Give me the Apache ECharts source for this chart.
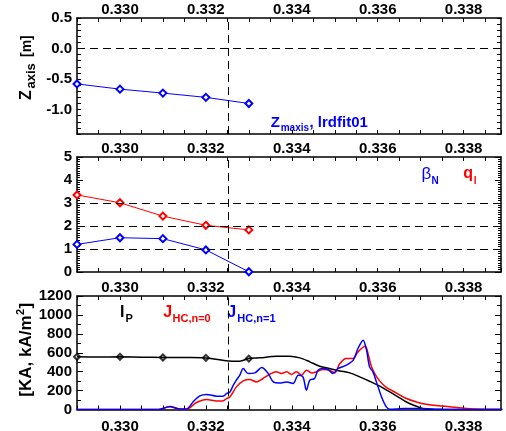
<!DOCTYPE html>
<html>
<head>
<meta charset="utf-8">
<script src="https://cdn.jsdelivr.net/npm/echarts@6/dist/echarts.min.js"></script>
<style>
  html, body { margin: 0; padding: 0; background: #fff; }
  #chart { width: 506px; height: 431px; }
</style>
</head>
<body>
<div id="chart"></div>
<script>
// time axis (s)
const tMin = 0.329;
const tMax = 0.33887;
const cursorT = 0.33251;

// panel 1: Zaxis, lrdfit01
const fitT = [0.329, 0.330, 0.331, 0.332, 0.333];
const zAxis = [-0.58, -0.665, -0.73, -0.80, -0.90];

// panel 2: beta_N and q_l
const betaN = [1.2, 1.49, 1.45, 0.96, 0.01];
const qL = [3.35, 3.01, 2.43, 2.03, 1.83];

// reference lines
const zRefs = [0];
const qRefs = [1, 2, 3];

// panel 3: Ip and halo currents
const ipDiamonds = [557, 557, 550, 546, 538];
const ipT = [0.3290, 0.3295, 0.3300, 0.3305, 0.3310, 0.3315, 0.3320, 0.33252, 0.33279, 0.3330, 0.33326, 0.33364, 0.33395, 0.33419, 0.33442, 0.33465, 0.33488, 0.33512, 0.33535, 0.33558, 0.33581, 0.33605, 0.33628, 0.33651, 0.33674, 0.33698, 0.33713, 0.3389];
const ipVal = [557, 555, 557, 553, 551, 549, 545, 514, 511, 538, 546, 564, 564, 546, 504, 458, 434, 408, 387, 345, 299, 247, 186, 123, 63, 21, 2, 0];

const jn1T = [0.3290, 0.3309, 0.33116, 0.33140, 0.33155, 0.33170, 0.33186, 0.33202, 0.33225, 0.33240, 0.33248, 0.33256, 0.33263, 0.33271, 0.33279, 0.33287, 0.33298, 0.33314, 0.33330, 0.33345, 0.33357, 0.33372, 0.33388, 0.33403, 0.33415, 0.33426, 0.33434, 0.33442, 0.33453, 0.33461, 0.33473, 0.33484, 0.33496, 0.33508, 0.33527, 0.33543, 0.33554, 0.33566, 0.33574, 0.33581, 0.33589, 0.33597, 0.33609, 0.33620, 0.33628, 0.3366, 0.3370, 0.3375, 0.3389];
const jn1Val = [0, 0, 32, 5, 5, 80, 144, 159, 141, 141, 169, 186, 250, 310, 363, 434, 381, 387, 444, 381, 292, 281, 292, 275, 363, 345, 204, 310, 328, 416, 434, 423, 381, 434, 469, 522, 645, 733, 627, 451, 398, 292, 133, 28, 3, 10, 10, 3, 0];

const jn0T = [0.3290, 0.3309, 0.33116, 0.33140, 0.33155, 0.33178, 0.33202, 0.33225, 0.33240, 0.33248, 0.33256, 0.33271, 0.33287, 0.33302, 0.33318, 0.33333, 0.33349, 0.33364, 0.33376, 0.33388, 0.33399, 0.33411, 0.33423, 0.33434, 0.33446, 0.33457, 0.33473, 0.33488, 0.33500, 0.33512, 0.33527, 0.33543, 0.33554, 0.33571, 0.33578, 0.33585, 0.33593, 0.33605, 0.33620, 0.33643, 0.33667, 0.33690, 0.33713, 0.33767, 0.33806, 0.33837, 0.3389];
const jn0Val = [0, 0, 28, 3, 3, 74, 106, 91, 91, 116, 133, 239, 303, 317, 292, 328, 373, 398, 381, 398, 370, 398, 363, 416, 387, 398, 423, 416, 387, 487, 540, 540, 609, 668, 580, 460, 380, 300, 235, 176, 116, 80, 56, 28, 11, 3, 0];

const pairs = (xs, ys) => xs.map((x, i) => [x, ys[i]]);

const font = 'Liberation Sans, Arial, sans-serif';
const BLUE = '#0000ff';
const RED = '#ff0000';

const grids = [
  { left: 77, width: 424, top: 18, height: 116, outerBoundsMode: 'none' },
  { left: 77, width: 424, top: 157, height: 115, outerBoundsMode: 'none' },
  { left: 77, width: 424, top: 296, height: 113.5, outerBoundsMode: 'none' }
];

function xAxisFor (g, pos, showLabel, margin) {
  return {
    type: 'value', gridIndex: g, position: pos,
    min: tMin, max: tMax, interval: 0.0005,
    axisLine: { show: true, onZero: false, lineStyle: { color: '#000', width: 1.5 } },
    axisTick: { show: true, inside: true, length: 4, lineStyle: { color: '#000' } },
    splitLine: { show: false },
    axisLabel: {
      show: showLabel, margin: margin, color: '#000',
      fontFamily: font, fontWeight: 'bold', fontSize: 15,
      showMaxLabel: false,
      formatter: v => (Math.round(v * 10000) % 20 === 0 ? v.toFixed(3) : '')
    }
  }
}

function yAxisFor (g, pos, opts) {
  const left = pos === 'left';
  return Object.assign({
    type: 'value', gridIndex: g, position: pos,
    axisLine: { show: true, onZero: false, lineStyle: { color: '#000', width: 1.5 } },
    axisTick: { show: true, inside: true, length: 6, lineStyle: { color: '#000' } },
    splitLine: { show: false },
    axisLabel: {
      show: left, margin: 5, color: '#000',
      fontFamily: font, fontWeight: 'bold', fontSize: 15,
      formatter: v => String(v)
    }
  }, opts)
}

const refLine = (data) => ({
  silent: true, symbol: 'none', animation: false, precision: 6,
  label: { show: false },
  lineStyle: { color: '#000', type: [8, 5], width: 1 },
  data: data
});

function txt (x, y, text, color, size, extra) {
  return Object.assign({
    type: 'text', x: x, y: y, silent: true,
    style: {
      text: text, fill: color, fontFamily: font, fontWeight: 'bold',
      fontSize: size, align: 'left', verticalAlign: 'middle'
    }
  }, extra || {})
}

const zFmt = v => (Math.abs(Math.round(v * 10)) % 5 === 0 ? (Math.round(v * 10) / 10).toFixed(1) : '');
const tickSmall = { show: true, inside: true, length: 4, lineStyle: { color: '#000' } };

const option = {
  animation: false,
  grid: grids,
  xAxis: [
    xAxisFor(0, 'top', true, 1), xAxisFor(0, 'bottom', false, 6),
    xAxisFor(1, 'top', true, 1), xAxisFor(1, 'bottom', false, 6),
    xAxisFor(2, 'top', true, 1), xAxisFor(2, 'bottom', true, 10)
  ],
  yAxis: [
    yAxisFor(0, 'left', { min: -1.4, max: 0.5, interval: 0.1, axisTick: tickSmall, axisLabel: { margin: 5, color: '#000', fontFamily: font, fontWeight: 'bold', fontSize: 15, formatter: zFmt } }),
    yAxisFor(0, 'right', { min: -1.4, max: 0.5, interval: 0.1, axisTick: tickSmall }),
    yAxisFor(1, 'left', { min: 0, max: 5, interval: 1, minorTick: { show: true, splitNumber: 10, length: 3, lineStyle: { color: '#000' } } }),
    yAxisFor(1, 'right', { min: 0, max: 5, interval: 1, minorTick: { show: true, splitNumber: 10, length: 3, lineStyle: { color: '#000' } } }),
    yAxisFor(2, 'left', { min: 0, max: 1200, interval: 200, minorTick: { show: true, splitNumber: 2, length: 4, lineStyle: { color: '#000' } } }),
    yAxisFor(2, 'right', { min: 0, max: 1200, interval: 200, minorTick: { show: true, splitNumber: 2, length: 4, lineStyle: { color: '#000' } } })
  ],
  series: [
    {
      name: 'Zmaxis', type: 'line', xAxisIndex: 0, yAxisIndex: 0,
      data: pairs(fitT, zAxis),
      symbol: 'emptyDiamond', symbolSize: 7,
      lineStyle: { color: BLUE, width: 1 }, itemStyle: { color: BLUE, borderWidth: 1.5 },
      markLine: refLine([{ xAxis: cursorT }].concat(zRefs.map(v => ({ yAxis: v }))))
    },
    {
      name: 'qL', type: 'line', xAxisIndex: 2, yAxisIndex: 2,
      data: pairs(fitT, qL),
      symbol: 'emptyDiamond', symbolSize: 7,
      lineStyle: { color: RED, width: 1 }, itemStyle: { color: RED, borderWidth: 1.5 },
      markLine: refLine([{ xAxis: cursorT }].concat(qRefs.map(v => ({ yAxis: v }))))
    },
    {
      name: 'betaN', type: 'line', xAxisIndex: 2, yAxisIndex: 2,
      data: pairs(fitT, betaN),
      symbol: 'emptyDiamond', symbolSize: 7,
      lineStyle: { color: BLUE, width: 1 }, itemStyle: { color: BLUE, borderWidth: 1.5 }
    },
    {
      name: 'Ip', type: 'line', xAxisIndex: 4, yAxisIndex: 4,
      data: pairs(ipT, ipVal), showSymbol: false, smooth: 0.3,
      lineStyle: { color: '#000', width: 1.5 },
      markLine: refLine([{ xAxis: cursorT }])
    },
    {
      name: 'Ip pts', type: 'scatter', xAxisIndex: 4, yAxisIndex: 4,
      data: pairs(fitT, ipDiamonds),
      symbol: 'emptyDiamond', symbolSize: 6,
      itemStyle: { color: '#000', borderWidth: 1.5 }
    },
    {
      name: 'J n=0', type: 'line', xAxisIndex: 4, yAxisIndex: 4,
      data: pairs(jn0T, jn0Val), showSymbol: false, smooth: 0.3,
      lineStyle: { color: RED, width: 1.5 }
    },
    {
      name: 'J n=1', type: 'line', xAxisIndex: 4, yAxisIndex: 4,
      data: pairs(jn1T, jn1Val), showSymbol: false, smooth: 0.3,
      lineStyle: { color: BLUE, width: 1.5 }
    }
  ],
  graphic: [
    // panel 1 label
    txt(270.7, 122.5, 'Z', BLUE, 15),
    txt(280.7, 128.5, 'maxis', BLUE, 10),
    txt(309.5, 122.5, ', lrdfit01', BLUE, 15),
    // panel 2 labels
    txt(421.5, 174, 'β', BLUE, 16, { style: { text: 'β', fill: BLUE, fontFamily: font, fontWeight: 'normal', fontSize: 17, align: 'left', verticalAlign: 'middle' } }),
    txt(431.5, 181, 'N', BLUE, 10),
    txt(463.3, 174, 'q', RED, 16),
    txt(473.7, 181, 'l', RED, 10),
    // panel 3 labels
    txt(120, 313, 'I', '#000', 16),
    txt(125.5, 318.5, 'P', '#000', 11),
    txt(163.3, 313, 'J', RED, 16),
    txt(172.5, 319, 'HC,n=0', RED, 11),
    txt(227.3, 313, 'J', BLUE, 16),
    txt(237.3, 319, 'HC,n=1', BLUE, 11),
    // y-axis names (rotated)
    txt(26.2, 100, 'Z', '#000', 16, { rotation: Math.PI / 2 }),
    txt(31.5, 88.5, 'axis', '#000', 13, { rotation: Math.PI / 2 }),
    txt(27, 57, '[m]', '#000', 14, { rotation: Math.PI / 2 }),
    txt(26.5, 396.7, '[KA, kA/m', '#000', 17, { rotation: Math.PI / 2 }),
    txt(21, 315, '2', '#000', 11, { rotation: Math.PI / 2 }),
    txt(26.5, 308.5, ']', '#000', 17, { rotation: Math.PI / 2 })
  ]
};

const chart = echarts.init(document.getElementById('chart'), null, { renderer: 'canvas' });
chart.setOption(option);
window.addEventListener('resize', () => chart.resize());
</script>
</body>
</html>
